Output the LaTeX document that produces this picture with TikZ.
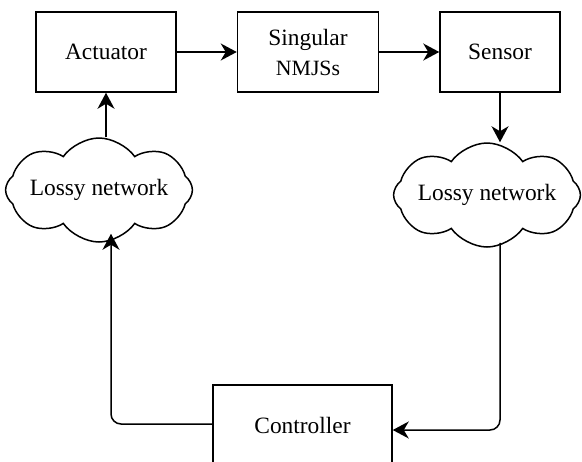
\documentclass[tikz,border=0pt]{standalone}
\usepackage{fontspec}
\setmainfont{Liberation Serif}
\usetikzlibrary{positioning,shapes.symbols,arrows.meta}

\begin{document}
\begin{tikzpicture}[
  x=0.5pt, y=-0.5pt,
  >={Stealth[length=8pt,width=8.5pt,inset=2.5pt]},
  every node/.style={font=\fontsize{11.7}{15}\selectfont},
  block/.style={draw, line width=0.75pt, minimum height=40pt,
    inner sep=0pt, align=center},
  net/.style={draw, cloud, cloud puffs=8, cloud puff arc=110,
    cloud ignores aspect, line width=0.75pt, inner sep=0pt,
    minimum width=91pt, minimum height=52pt},
  link/.style={->, line width=0.75pt, rounded corners=5pt}]

  \useasboundingbox (0,0) rectangle (582,461);
  \clip (0,0) rectangle (582,461);

  % forward path
  \node[block, minimum width=70pt] (act) at (106,52) {Actuator};
  \node[block, minimum width=70.5pt, right=30pt of act] (plant)
    {Singular\\{\fontsize{10.9}{13}\selectfont NMJSs}};
  \node[block, minimum width=60pt, right=30pt of plant] (sens) {Sensor};

  % networks and controller
  \node[net] (netL) at (99,190) {Lossy network};
  \node[net] (netR) at (487,195) {Lossy network};
  \node[block, minimum width=89.5pt] (ctrl) at (302.5,425) {Controller};

  \draw[link] (act) -- (plant);
  \draw[link] (plant) -- (sens);
  \draw[link] (sens.south) -- (sens.south |- netR.north);
  \draw[link] ([yshift=2.5pt]sens.south |- netR.south)
    |- ([yshift=-2.5pt]ctrl.east);
  \draw[link] ([yshift=0.5pt]ctrl.west)
    -| ([xshift=6pt,yshift=4.5pt]netL.south);
  \draw[link] (act.south |- netL.north) -- (act.south);
\end{tikzpicture}
\end{document}
